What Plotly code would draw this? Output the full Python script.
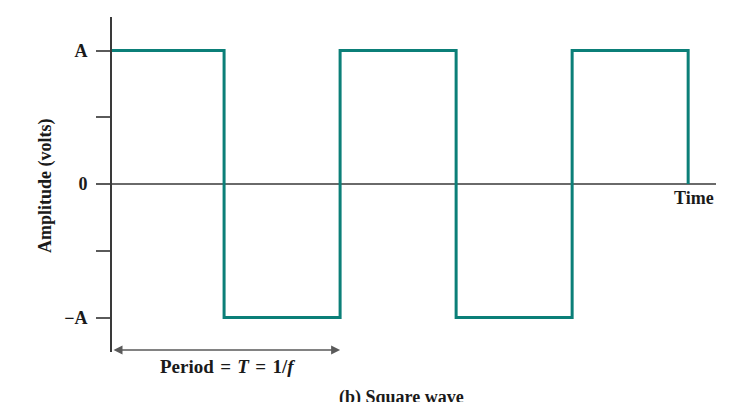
import plotly.graph_objects as go

# Data (time in units of period T, amplitude in units of A)
edge_times = [0, 0.483, 0.983, 1.483, 1.983, 2.483]
levels = [1, -1, 1, -1, 1, 0]
tick_vals = [-1, -0.5, 0, 0.5, 1]
tick_text = ["\u2212A", "", "0", "", "A"]
period_end = 0.983

TEAL = "#0B7F78"
GRAY = "#5a5a5a"
FONT = "Liberation Serif"
FS = 18

fig = go.Figure()
fig.add_trace(go.Scatter(
    x=edge_times, y=levels, mode="lines", line_shape="hv",
    line=dict(color=TEAL, width=3), showlegend=False, hoverinfo="skip",
    cliponaxis=False,
))

sp = " \u200a"

fig.update_layout(
    width=731, height=402,
    margin=dict(l=112, r=15, t=17, b=50),
    paper_bgcolor="white", plot_bgcolor="white",
    font=dict(family=FONT, size=FS, color="#1a1a1a"),
    xaxis=dict(range=[0, 2.603], visible=False, fixedrange=True),
    yaxis=dict(
        range=[-1.258, 1.251], showgrid=False, fixedrange=True,
        showline=True, linecolor="#3a3a3a", linewidth=2,
        zeroline=True, zerolinecolor="#6a6a6a", zerolinewidth=2,
        ticks="outside", ticklen=14, tickwidth=2, tickcolor=GRAY,
        tickvals=tick_vals, ticktext=tick_text,
        tickfont=dict(family=FONT, size=FS, color="#1a1a1a", weight="bold"),
        ticklabelstandoff=5,
    ),
    annotations=[
        dict(text="<b>Amplitude (volts)</b>", xref="paper", yref="paper",
             x=(45 - 112) / 604, y=(352 - 186) / 335, textangle=-90,
             showarrow=False, xanchor="center", yanchor="middle",
             font=dict(family=FONT, size=FS)),
        dict(text="<b>Time</b>", xref="paper", yref="paper",
             x=1.0, y=(352 - 198) / 335, xanchor="right", yanchor="middle",
             showarrow=False, font=dict(family=FONT, size=FS)),
        dict(text="", x=period_end, y=-1.243, ax=0, ay=-1.243,
             xref="x", yref="y", axref="x", ayref="y",
             showarrow=True, arrowside="end+start",
             arrowhead=2, startarrowhead=2, arrowsize=1.2, startarrowsize=1.2,
             arrowwidth=1.5, arrowcolor=GRAY),
        dict(text=f"<b>Period{sp}={sp}<i>T</i>{sp}={sp}1/<i>f</i></b>", xref="x", yref="paper",
             x=(227 - 112) / 232, y=(352 - 366) / 335,
             xanchor="center", yanchor="middle", showarrow=False,
             font=dict(family=FONT, size=19)),
        dict(text="<b>(b) Square wave</b>", xref="paper", yref="paper",
             x=(401 - 112) / 604, y=(352 - 397) / 335,
             xanchor="center", yanchor="middle", showarrow=False,
             font=dict(family=FONT, size=FS)),
    ],
)

fig.write_html("out.html", config={"displayModeBar": False},
               post_script="document.body.style.margin='0';")
